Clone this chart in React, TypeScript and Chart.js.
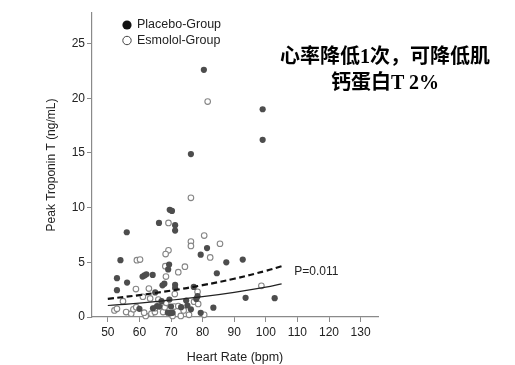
import React, { useEffect, useRef } from "react";
import { Chart, registerables } from "chart.js";

Chart.register(...registerables);

// ---- data ----
const seriesNames = ["Placebo-Group", "Esmolol-Group"];

const placeboX = [
  80.4, 99, 99, 76.3, 69.6, 70.3, 66.2, 71.3, 71.3, 56,
  54, 79.4, 81.4, 87.5, 92.7, 69.4, 69.1, 61, 61.6, 62.2,
  64.2, 52.9, 56.1, 52.9, 67.3, 67.9, 71.3, 71.3, 77.2, 84.5,
  65, 78.4, 78, 93.6, 102.8, 83.4, 60, 67, 69.5, 65.6,
  66.3, 75.2, 76.3, 69, 69.7, 70.5, 79.4, 70, 64.3, 74.8, 73.2,
];
const placeboY = [
  22.6, 19.0, 16.2, 14.9, 9.8, 9.7, 8.6, 8.4, 7.9, 7.75,
  5.2, 5.7, 6.3, 5.0, 5.25, 4.8, 4.35, 3.7, 3.8, 3.9,
  3.85, 3.55, 3.15, 2.45, 2.9, 3.05, 2.95, 2.65, 2.75, 4.0,
  2.25, 1.9, 1.65, 1.75, 1.72, 0.85, 0.75, 1.45, 1.6, 1.0,
  0.95, 1.05, 0.7, 0.4, 0.35, 0.38, 0.38, 0.95, 0.8, 1.5, 0.9,
];

const esmololX = [
  81.6, 76.3, 69.2, 80.5, 76.3, 76.3, 85.5, 69.2, 68.3, 59.2,
  60.2, 82.4, 74.4, 72.3, 68.2, 68.4, 58.9, 78.4, 61.1, 63.4,
  98.6, 54.8, 52.1, 52.9, 55.8, 57.4, 58.1, 62, 63.8, 64.9,
  64.9, 67.5, 68, 70.5, 71, 72.3, 73.1, 75.7, 77.3, 80.5,
  78.6, 66, 59, 61.5, 68.5, 74, 71.2, 63,
];
const esmololY = [
  19.7, 10.9, 8.6, 7.45, 6.9, 6.5, 6.7, 6.1, 5.75, 5.2,
  5.25, 5.45, 4.6, 4.1, 4.65, 3.7, 2.55, 2.3, 1.85, 1.7,
  2.85, 1.45, 0.6, 0.75, 0.45, 0.3, 0.7, 0.1, 0.3, 0.45,
  0.8, 0.45, 0.9, 0.1, 0.95, 1.0, 0.1, 0.2, 1.4, 0.2,
  1.2, 1.6, 0.9, 0.4, 1.3, 0.6, 2.1, 2.6,
];

// regression curves
const fitX = [50, 60, 70, 80, 90, 100, 105];
const placeboFit = [1.66, 2.0, 2.41, 2.91, 3.5, 4.22, 4.64];
const esmololFit = [1.05, 1.27, 1.54, 1.86, 2.26, 2.73, 3.03];

const xTicks = [50, 60, 70, 80, 90, 100, 110, 120, 130];
const yTicks = [0, 5, 10, 15, 20, 25];

const xTitle = "Heart Rate (bpm)";
const yTitle = "Peak Troponin T (ng/mL)";
const pLabel = "P=0.011";
const pLabelAt = [109, 4.1];
const noteLines = ["心率降低1次，可降低肌", "钙蛋白T 2%"];

const FONT = '"Liberation Sans", Arial, Helvetica, sans-serif';
const TEXT = "#222";
const AXIS = "#8a8a8a";
const FILL = "#4d4d4d";
const OPEN = "#858585";

const overlayPlugin = {
  id: "overlay",
  afterDatasetsDraw(chart: any) {
    const { ctx, scales, chartArea } = chart;
    const x = scales.x;
    const y = scales.y;
    ctx.save();
    // p-value label
    ctx.font = `12px ${FONT}`;
    ctx.fillStyle = TEXT;
    ctx.textBaseline = "middle";
    ctx.textAlign = "left";
    ctx.fillText(pLabel, x.getPixelForValue(pLabelAt[0]), y.getPixelForValue(pLabelAt[1]));

    // legend
    const lx = chartArea.left + 35;
    const ly = chartArea.top + 12;
    const gap = 15.5;
    ctx.font = `12.5px ${FONT}`;
    // filled
    ctx.beginPath();
    ctx.arc(lx, ly, 4.6, 0, Math.PI * 2);
    ctx.fillStyle = "#111";
    ctx.fill();
    ctx.fillStyle = TEXT;
    ctx.fillText(seriesNames[0], lx + 10, ly);
    // open
    ctx.beginPath();
    ctx.arc(lx, ly + gap, 4.2, 0, Math.PI * 2);
    ctx.fillStyle = "#fff";
    ctx.fill();
    ctx.lineWidth = 1;
    ctx.strokeStyle = "#444";
    ctx.stroke();
    ctx.fillStyle = TEXT;
    ctx.fillText(seriesNames[1], lx + 10, ly + gap);
    ctx.restore();
  },
};

export default function App() {
  const ref = useRef<HTMLCanvasElement | null>(null);

  useEffect(() => {
    if (!ref.current) return;
    const toPts = (xs: number[], ys: number[]) => xs.map((v, i) => ({ x: v, y: ys[i] }));

    const chart = new Chart(ref.current, {
      type: "scatter",
      data: {
        datasets: [
          {
            label: seriesNames[0] + " fit",
            data: toPts(fitX, placeboFit),
            showLine: true,
            borderColor: "#111",
            borderWidth: 2.2,
            borderDash: [6, 3.5],
            pointRadius: 0,
            tension: 0.4,
            fill: false,
            order: 0,
          } as any,
          {
            label: seriesNames[1] + " fit",
            data: toPts(fitX, esmololFit),
            showLine: true,
            borderColor: "#222",
            borderWidth: 1.2,
            pointRadius: 0,
            tension: 0.4,
            fill: false,
            order: 0,
          } as any,
          {
            label: seriesNames[1],
            data: toPts(esmololX, esmololY),
            pointRadius: 2.8,
            pointBackgroundColor: "#fff",
            pointBorderColor: OPEN,
            pointBorderWidth: 1.1,
            order: 2,
          },
          {
            label: seriesNames[0],
            data: toPts(placeboX, placeboY),
            pointRadius: 3.1,
            pointBackgroundColor: FILL,
            pointBorderColor: FILL,
            pointBorderWidth: 0,
            order: 1,
          },
        ],
      },
      options: {
        animation: false,
        responsive: false,
        clip: false as any,
        layout: { padding: { left: 0, top: 13, right: 137, bottom: 0 } },
        plugins: {
          legend: { display: false },
          tooltip: { enabled: false },
        },
        scales: {
          x: {
            type: "linear",
            min: 45,
            max: 135.5,
            afterBuildTicks: (s: any) => {
              s.ticks = xTicks.map((v) => ({ value: v }));
            },
            afterFit: (s: any) => {
              s.height = 48;
            },
            grid: { drawOnChartArea: false, drawTicks: true, tickLength: 5, color: AXIS, lineWidth: 1 },
            border: { display: true, color: AXIS, width: 1.2 },
            ticks: {
              autoSkip: false,
              maxRotation: 0,
              padding: 3,
              color: TEXT,
              font: { family: FONT, size: 12 },
            },
            title: {
              display: true,
              text: xTitle,
              color: TEXT,
              font: { family: FONT, size: 12.5 },
              padding: { top: 0, bottom: 0 },
            },
          },
          y: {
            type: "linear",
            min: 0,
            max: 27.8,
            afterBuildTicks: (s: any) => {
              s.ticks = yTicks.map((v) => ({ value: v }));
            },
            afterFit: (s: any) => {
              s.width = 92;
            },
            grid: { drawOnChartArea: false, drawTicks: true, tickLength: 5, color: AXIS, lineWidth: 1 },
            border: { display: true, color: AXIS, width: 1.2 },
            ticks: {
              autoSkip: false,
              padding: 2,
              color: TEXT,
              font: { family: FONT, size: 12 },
            },
            title: {
              display: true,
              text: yTitle,
              color: TEXT,
              font: { family: FONT, size: 12 },
              padding: { top: 44, bottom: 0 },
            },
          },
        },
      },
      plugins: [overlayPlugin],
    });
    return () => chart.destroy();
  }, []);

  return (
    <div
      style={{
        position: "fixed",
        left: 0,
        top: 0,
        width: 515,
        height: 365,
        background: "#fff",
      }}
    >
      <canvas ref={ref} width={515} height={365} style={{ display: "block", width: 515, height: 365 }} />
      <div
        style={{
          position: "absolute",
          left: 255,
          top: 43,
          width: 260,
          textAlign: "center",
          whiteSpace: "nowrap",
          fontFamily: '"Liberation Serif", "Noto Sans CJK SC", serif',
          fontWeight: "bold",
          fontSize: 20,
          lineHeight: "26px",
          color: "#000",
        }}
      >
        <div>{noteLines[0]}</div>
        <div>{noteLines[1]}</div>
      </div>
    </div>
  );
}
